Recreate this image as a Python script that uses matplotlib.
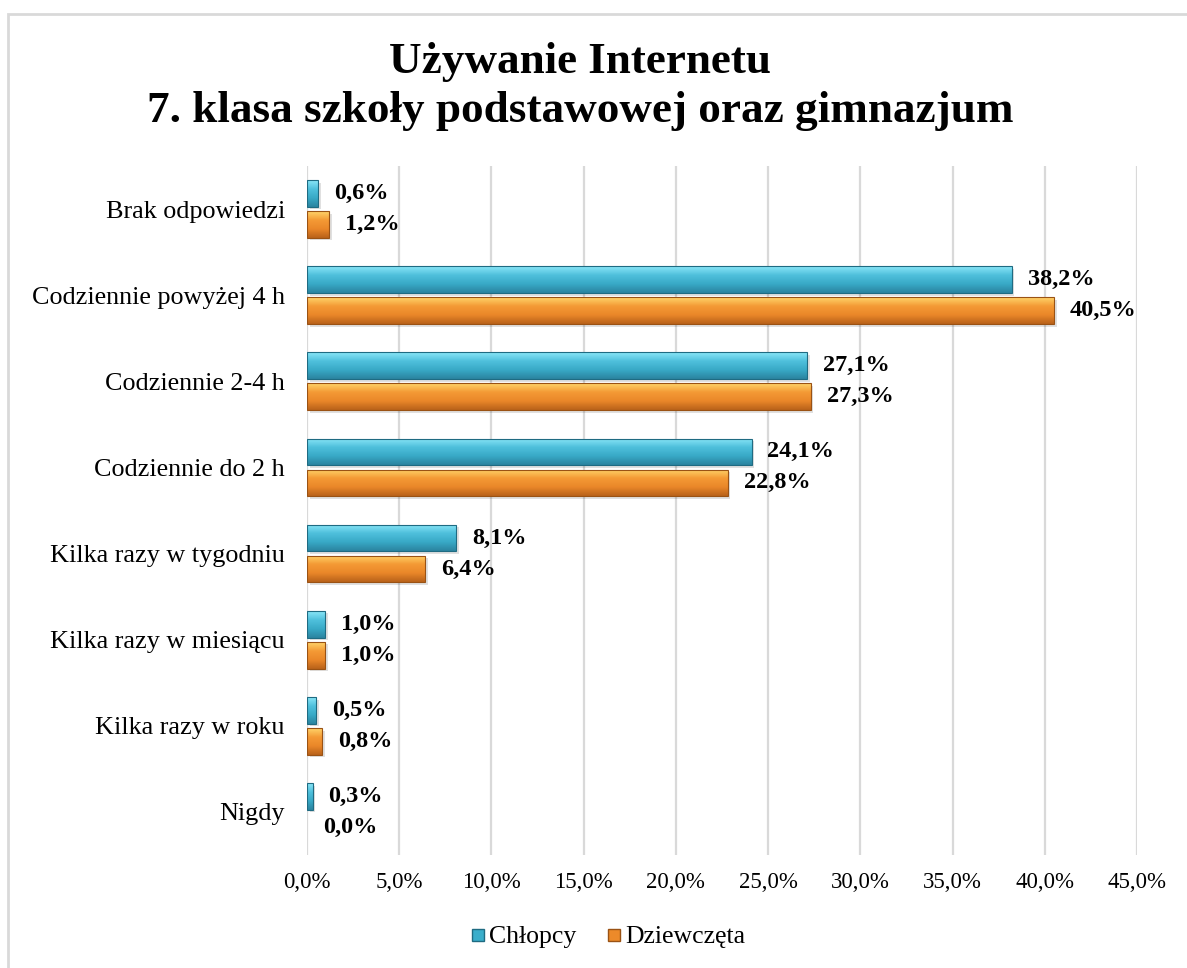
import matplotlib
matplotlib.use('Agg')
import matplotlib.pyplot as plt
import numpy as np
from matplotlib.colors import LinearSegmentedColormap
from matplotlib.patches import Rectangle
from matplotlib.lines import Line2D

plt.rcParams['font.family'] = ['Liberation Serif', 'DejaVu Serif']

# data (top to bottom as in the chart)
categories = ['Brak odpowiedzi', 'Codziennie powyżej 4 h', 'Codziennie 2-4 h',
              'Codziennie do 2 h', 'Kilka razy w tygodniu', 'Kilka razy w miesiącu',
              'Kilka razy w roku', 'Nigdy']
chlopcy = [0.6, 38.2, 27.1, 24.1, 8.1, 1.0, 0.5, 0.3]
dziewczeta = [1.2, 40.5, 27.3, 22.8, 6.4, 1.0, 0.8, 0.0]
xticks = [0, 5, 10, 15, 20, 25, 30, 35, 40, 45]

blue_cmap = LinearSegmentedColormap.from_list('b', ['#2b84a0', '#38a9c6', '#4fc0dc', '#8ae6f8'])
orange_cmap = LinearSegmentedColormap.from_list('o', ['#b9621a', '#ea8729', '#f49a35', '#ffd46a'])

fig = plt.figure(figsize=(11.87, 9.68), dpi=100)
ax = fig.add_axes([307/1187, 1 - 855/968, (1137 - 307)/1187, (855 - 166)/968])

n = len(categories)
ypos = np.arange(n)[::-1]  # first category at top
h = 0.31
off = 0.18

grad = np.linspace(0, 1, 64).reshape(-1, 1)


def gbar(y, w, cmap, edge):
    if w <= 0:
        return
    # soft shadow
    ax.barh(y - 0.03, w, height=h, left=0.15, color='#000000', alpha=0.12, zorder=1, linewidth=0)
    b = ax.barh(y, w, height=h, color='none', edgecolor=edge, linewidth=0.8, zorder=3)[0]
    im = ax.imshow(grad, cmap=cmap, aspect='auto', origin='lower',
                   extent=[0, w, y - h/2, y + h/2], zorder=2)
    im.set_clip_path(b)


def fmt(v):
    return f'{v:.1f}%'.replace('.', ',')


for y, c, d in zip(ypos, chlopcy, dziewczeta):
    gbar(y + off, c, blue_cmap, '#1f6b82')
    gbar(y - off, d, orange_cmap, '#9a5214')
    ax.annotate(fmt(c), (c, y + off), xytext=(11.5, 0),
                textcoords='offset points', va='center', ha='left',
                fontsize=17.5, fontweight='bold')
    ax.annotate(fmt(d), (d, y - off), xytext=(11.5, 0),
                textcoords='offset points', va='center', ha='left',
                fontsize=17.5, fontweight='bold')

ax.set_xlim(0, 45)
ax.set_ylim(-0.5, n - 0.5)
ax.set_xticks(xticks)
ax.set_xticklabels([fmt(t) for t in xticks], fontsize=16.5)
ax.set_yticks(ypos)
ax.set_yticklabels(categories, fontsize=18.8)
ax.tick_params(axis='x', length=0, pad=12)
ax.tick_params(axis='y', length=0, pad=16)
ax.grid(axis='x', color='#d9d9d9', linewidth=1.6)
ax.set_axisbelow(True)
for s in ax.spines.values():
    s.set_visible(False)

fig.text(580/1187, 1 - 62/968, 'Używanie Internetu', ha='center', va='center',
         fontsize=32.5, fontweight='bold')
fig.text(580/1187, 1 - 111/968, '7. klasa szkoły podstawowej oraz gimnazjum',
         ha='center', va='center', fontsize=32.5, fontweight='bold')

handles = [Line2D([], [], marker='s', linestyle='none', markersize=9,
                  markerfacecolor='#3aaecb', markeredgecolor='#1f6b82'),
           Line2D([], [], marker='s', linestyle='none', markersize=9,
                  markerfacecolor='#ec8a2a', markeredgecolor='#9a5214')]
fig.legend(handles, ['Chłopcy', 'Dziewczęta'], loc='center',
           bbox_to_anchor=(606/1187, 1 - 937/968), ncol=2, frameon=False,
           fontsize=18.5, handletextpad=0.0, columnspacing=1.0, handlelength=0.9)

# outer chart border
fig.patches.append(Rectangle((8/1187, -0.1), 1.2, 1.1 - 14/968, transform=fig.transFigure,
                             fill=False, edgecolor='#d9d9d9', linewidth=2))

fig.savefig('out.png', dpi=100)
